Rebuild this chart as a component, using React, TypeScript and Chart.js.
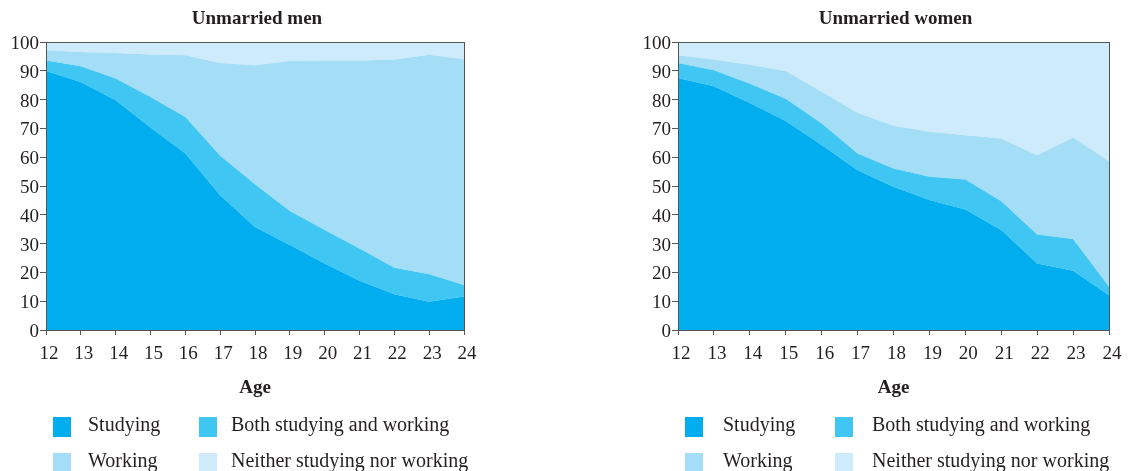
import React, { useEffect, useRef } from "react";
import { Chart, registerables } from "chart.js";

Chart.register(...registerables);

// ---------- data ----------
const ages = ["12", "13", "14", "15", "16", "17", "18", "19", "20", "21", "22", "23", "24"];
const seriesLabels = ["Studying", "Both studying and working", "Working", "Neither studying nor working"];
const seriesColors = ["#00aeef", "#40c6f2", "#a4ddf6", "#cdebfa"];

const menStudying = [89.9, 86.1, 79.8, 70.3, 61.3, 46.8, 35.8, 29.5, 23.1, 17.1, 12.4, 9.8, 11.6];
const menBoth = [3.7, 5.5, 7.5, 10.6, 12.7, 13.7, 14.8, 11.8, 11.6, 11.2, 9.2, 9.6, 4.0];
const menWorking = [3.5, 4.9, 8.9, 14.8, 21.4, 32.2, 41.3, 52.1, 58.9, 65.3, 72.3, 76.2, 78.4];
const menNeither = [2.9, 3.5, 3.8, 4.3, 4.6, 7.3, 8.1, 6.6, 6.4, 6.4, 6.1, 4.4, 6.0];

const womenStudying = [87.5, 84.6, 78.8, 72.6, 64.2, 55.5, 49.7, 45.1, 41.8, 34.7, 23.1, 20.6, 12.1];
const womenBoth = [5.2, 5.6, 6.7, 7.7, 7.5, 5.8, 6.4, 8.1, 10.5, 10.0, 10.1, 11.0, 2.9];
const womenWorking = [2.7, 3.7, 6.6, 9.6, 11.0, 14.1, 14.8, 15.6, 15.3, 21.8, 27.5, 35.2, 43.6];
const womenNeither = [4.6, 6.1, 7.9, 10.1, 17.3, 24.6, 29.1, 31.2, 32.4, 33.5, 39.3, 33.2, 41.4];

const INK = "#231f20";
const AXIS = "#555555";
const SERIF = '"Liberation Serif", "DejaVu Serif", serif';

type PanelProps = {
  left: number;
  width: number;
  title: string;
  series: number[][];
  padLeft: number;
  padRight: number;
  legendX: number[];
};

function Panel({ left, width, title, series, padLeft, padRight, legendX }: PanelProps) {
  const ref = useRef<HTMLCanvasElement>(null);
  useEffect(() => {
    const canvas = ref.current!;
    const decor = {
      id: "decor",
      afterDraw(chart: any) {
        const { ctx, chartArea: a } = chart;
        ctx.save();
        ctx.strokeStyle = AXIS;
        ctx.lineWidth = 1;
        ctx.strokeRect(Math.round(a.left) + 0.5, Math.round(a.top) + 0.5, Math.round(a.right - a.left), Math.round(a.bottom - a.top));
        ctx.fillStyle = INK;
        ctx.font = `bold 19px ${SERIF}`;
        ctx.textAlign = "center";
        ctx.textBaseline = "alphabetic";
        ctx.fillText(title, (a.left + a.right) / 2 + 2, 24);
        ctx.font = `20px ${SERIF}`;
        ctx.textAlign = "left";
        chart.data.datasets.forEach((ds: any, i: number) => {
          const col = i % 2;
          const row = Math.floor(i / 2);
          const bx = col ? legendX[2] : legendX[0];
          const tx = col ? legendX[3] : legendX[1];
          const by = row ? 453 : 417;
          ctx.fillStyle = ds.backgroundColor;
          ctx.fillRect(bx, by, 18, 20);
          ctx.fillStyle = INK;
          ctx.fillText(ds.label, tx, by + 14);
        });
        ctx.restore();
      },
    };
    const chart = new Chart(canvas, {
      type: "line",
      data: {
        labels: ages,
        datasets: series.map((d, i) => ({
          label: seriesLabels[i],
          data: d,
          backgroundColor: seriesColors[i],
          borderColor: seriesColors[i],
          borderWidth: 0,
          pointRadius: 0,
          tension: 0,
          fill: i === 0 ? "origin" : "-1",
        })),
      },
      options: {
        responsive: false,
        animation: false,
        layout: { padding: { left: padLeft, right: padRight, top: 42, bottom: 71 } },
        plugins: { legend: { display: false }, title: { display: false }, tooltip: { enabled: false } },
        scales: {
          x: {
            type: "category",
            offset: false,
            grid: { drawOnChartArea: false, drawTicks: true, tickLength: 5, color: AXIS },
            border: { display: true, color: AXIS },
            ticks: { color: INK, font: { family: SERIF, size: 19 }, padding: 8, labelOffset: 3, maxRotation: 0, autoSkip: false },
            title: { display: true, text: "Age", color: INK, font: { family: SERIF, size: 19, weight: "bold" }, padding: { top: 0, bottom: 1 } },
            afterFit: (s: any) => { s.height = 70; },
          },
          y: {
            stacked: true,
            min: 0,
            max: 100,
            grid: { drawOnChartArea: false, drawTicks: true, tickLength: 6, color: AXIS },
            border: { display: true, color: AXIS },
            ticks: { stepSize: 10, color: INK, font: { family: SERIF, size: 19 }, padding: 1, labelOffset: 2 },
            afterFit: (s: any) => { s.width = 46; },
          },
        },
      },
      plugins: [decor],
    } as any);
    return () => chart.destroy();
  }, []);
  return (
    <canvas
      ref={ref}
      width={width}
      height={471}
      style={{ position: "absolute", left, top: 0, width, height: 471 }}
    />
  );
}

export default function App() {
  return (
    <div style={{ position: "absolute", left: 0, top: 0, width: 1147, height: 471, background: "#fff", overflow: "hidden" }}>
      <Panel
        left={0}
        width={560}
        title="Unmarried men"
        series={[menStudying, menBoth, menWorking, menNeither]}
        padLeft={0}
        padRight={96}
        legendX={[53, 88, 199, 231]}
      />
      <Panel
        left={600}
        width={547}
        title="Unmarried women"
        series={[womenStudying, womenBoth, womenWorking, womenNeither]}
        padLeft={32}
        padRight={38}
        legendX={[85, 123, 235, 272]}
      />
    </div>
  );
}
